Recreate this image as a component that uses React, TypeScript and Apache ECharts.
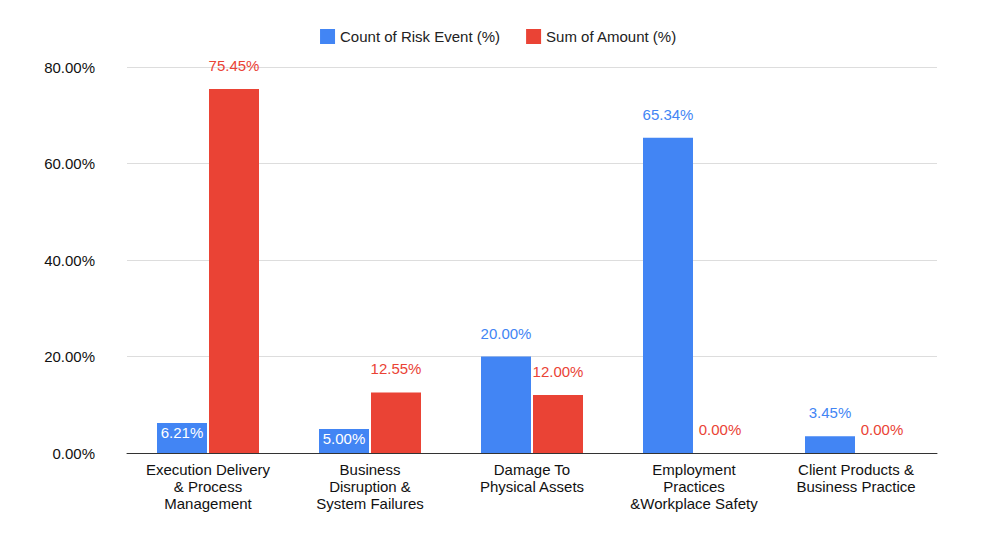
import { useEffect, useRef } from "react";
import * as echarts from "echarts";

const categories = [
  "Execution Delivery\n& Process\nManagement",
  "Business\nDisruption &\nSystem Failures",
  "Damage To\nPhysical Assets",
  "Employment\nPractices\n&Workplace Safety",
  "Client Products &\nBusiness Practice",
];
const countPct = [6.21, 5.0, 20.0, 65.34, 3.45];
const amountPct = [75.45, 12.55, 12.0, 0.0, 0.0];
const insideLabels = [true, true, false, false, false];

const BLUE = "#4285F4";
const RED = "#EA4335";
const FONT = "Liberation Sans, Arial, sans-serif";

export default function App() {
  const ref = useRef<HTMLDivElement | null>(null);

  useEffect(() => {
    if (!ref.current) return;
    const chart = echarts.init(ref.current, undefined, { renderer: "svg" });
    chart.setOption({
      animation: false,
      textStyle: { fontFamily: FONT },
      legend: {
        top: 16,
        left: "center",
        itemWidth: 15,
        itemHeight: 15,
        icon: "rect",
        itemGap: 26,
        textStyle: { fontSize: 15, color: "#222", fontFamily: FONT },
        data: ["Count of Risk Event (%)", "Sum of Amount (%)"],
      },
      grid: { left: 119, right: 52, top: 59, bottom: 75 },
      xAxis: {
        type: "category",
        data: categories,
        axisTick: { show: false },
        axisLine: { lineStyle: { color: "#333" } },
        axisLabel: { color: "#111", fontSize: 15, lineHeight: 17, margin: 8, interval: 0, fontFamily: FONT },
      },
      yAxis: {
        type: "value",
        min: 0,
        max: 80,
        interval: 20,
        axisLabel: {
          color: "#111",
          fontSize: 15,
          margin: 32,
          fontFamily: FONT,
          formatter: (v: number) => v.toFixed(2) + "%",
        },
        splitLine: { lineStyle: { color: "#ddd" } },
      },
      series: [
        {
          name: "Count of Risk Event (%)",
          type: "bar",
          barWidth: 50,
          barGap: "4%",
          itemStyle: { color: BLUE },
          data: countPct.map((v, i) => ({
            value: v,
            label: insideLabels[i]
              ? { position: "insideTop", color: "#fff", distance: 2 }
              : { position: "top", color: BLUE, distance: 16 },
          })),
          label: { show: true, fontSize: 15, fontFamily: FONT, formatter: (p: any) => p.value.toFixed(2) + "%" },
        },
        {
          name: "Sum of Amount (%)",
          type: "bar",
          barWidth: 50,
          itemStyle: { color: RED },
          data: amountPct,
          label: {
            show: true,
            position: "top",
            distance: 16,
            color: RED,
            fontSize: 15,
            fontFamily: FONT,
            formatter: (p: any) => p.value.toFixed(2) + "%",
          },
        },
      ],
    });
    return () => chart.dispose();
  }, []);

  return <div ref={ref} style={{ width: 981, height: 520 }} />;
}
